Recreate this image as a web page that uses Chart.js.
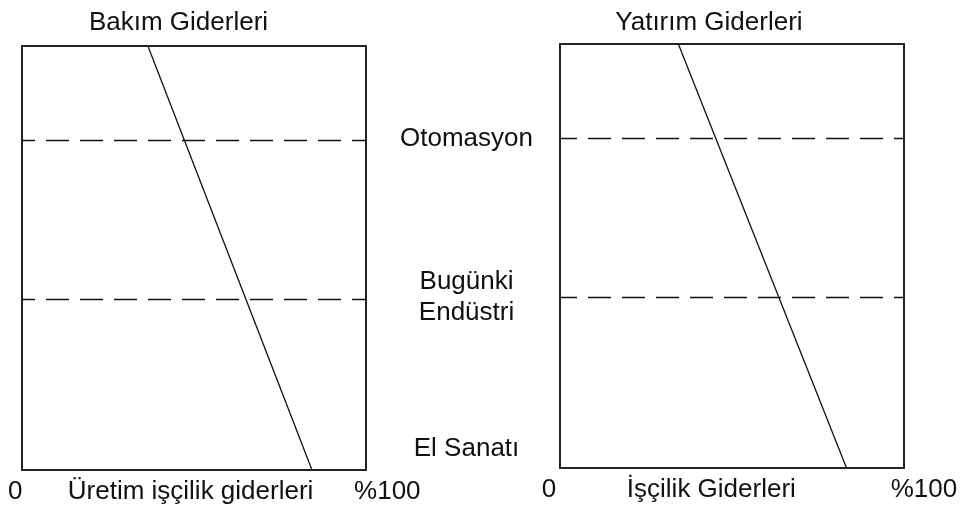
<!DOCTYPE html>
<html>
<head>
<meta charset="utf-8">
<script src="https://cdn.jsdelivr.net/npm/chart.js@4"></script>
<style>
  body { margin: 0; background: #fff; }
  .panel { position: absolute; top: 0; height: 512px; }
  #left-panel { left: 0; width: 480px; }
  #right-panel { left: 380px; width: 584px; }
</style>
</head>
<body>
<div class="panel" id="left-panel"><canvas id="chart-left"></canvas></div>
<div class="panel" id="right-panel"><canvas id="chart-right"></canvas></div>
<script>
// stage levels on the vertical scale (0 = bottom, 100 = top)
const stageLabels = ["El Sanatı", ["Bugünki", "Endüstri"], "Otomasyon"];
const stageLevels = [4.5, 40.2, 77.7];
const dashedLevels = [40.2, 77.7];

// the falling cost line in each panel
const lineY = [100, 0];
const maintenanceX = [36.6, 84.3];
const investmentX = [34.4, 83.3];

// titles and bottom labels, placed on the x scale (0..100)
const leftTitle = ["Bakım Giderleri"];
const leftTitlePos = [45.5];
const rightTitle = ["Yatırım Giderleri"];
const rightTitlePos = [43.3];
const leftXLabels = ["0", "Üretim işçilik giderleri", "%100"];
const leftXPos = [-2, 49, 106.2];
const rightXLabels = ["0", "İşçilik Giderleri", "%100"];
const rightXPos = [-3.2, 44, 105.8];

Chart.defaults.font.family = "'Liberation Sans', Arial, sans-serif";
Chart.defaults.font.size = 26;
Chart.defaults.color = "#111";

const ink = "#111";
const frame = { display: true, color: "#222", width: 2 };
const noGrid = { display: false, drawTicks: false };

const pts = (xs, ys) => xs.map((x, i) => ({ x: x, y: ys[i] }));

const setTicks = (values) => (scale) => {
  scale.ticks = values.map((v) => ({ value: v }));
};
const fixHeight = (h) => (scale) => {
  scale.height = h;
  scale.paddingLeft = 0;
  scale.paddingRight = 0;
};
const fixWidth = (w) => (scale) => {
  scale.width = w;
  scale.paddingTop = 0;
  scale.paddingBottom = 0;
};

function xAxis(position, values, labels, height, pad) {
  return {
    type: "linear",
    position: position,
    min: 0,
    max: 100,
    grid: noGrid,
    border: frame,
    ticks: {
      autoSkip: false,
      maxRotation: 0,
      padding: pad,
      callback: (v, i) => labels[i],
    },
    afterBuildTicks: setTicks(values),
    afterFit: fixHeight(height),
  };
}

function plainY(position) {
  return {
    type: "linear",
    position: position,
    min: 0,
    max: 100,
    grid: noGrid,
    border: frame,
    ticks: { display: false },
    afterFit: fixWidth(0),
  };
}

function datasets(lineX, dashOffset) {
  const sets = [
    {
      data: pts(lineX, lineY),
      borderColor: ink,
      borderWidth: 1.3,
    },
  ];
  dashedLevels.forEach((lvl) => {
    sets.push({
      data: pts([0, 100], [lvl, lvl]),
      borderColor: ink,
      borderWidth: 1.6,
      borderDash: [23, 11],
      borderDashOffset: dashOffset,
    });
  });
  return sets.map((s) => ({ ...s, showLine: true, pointRadius: 0, fill: false }));
}

const common = {
  responsive: true,
  maintainAspectRatio: false,
  animation: false,
  events: [],
  plugins: { legend: { display: false }, tooltip: { enabled: false } },
};

new Chart(document.getElementById("chart-left"), {
  type: "scatter",
  data: { datasets: datasets(maintenanceX, 10) },
  options: {
    ...common,
    layout: { padding: { left: 22, right: 114, top: 0, bottom: 0 } },
    scales: {
      x: xAxis("bottom", leftXPos, leftXLabels, 42, 6),
      xTop: xAxis("top", leftTitlePos, leftTitle, 46, 8),
      y: plainY("left"),
      yRight: plainY("right"),
    },
  },
});

new Chart(document.getElementById("chart-right"), {
  type: "scatter",
  data: { datasets: datasets(investmentX, 6) },
  options: {
    ...common,
    layout: { padding: { left: 0, right: 60, top: 0, bottom: 0 } },
    scales: {
      x: xAxis("bottom", rightXPos, rightXLabels, 44, 6),
      xTop: xAxis("top", rightTitlePos, rightTitle, 44, 6),
      y: {
        type: "linear",
        position: "left",
        min: 0,
        max: 100,
        grid: noGrid,
        border: frame,
        ticks: {
          crossAlign: "center",
          padding: 27,
          callback: (v, i) => stageLabels[i],
        },
        afterBuildTicks: setTicks(stageLevels),
        afterFit: fixWidth(180),
      },
      yRight: plainY("right"),
    },
  },
});
</script>
</body>
</html>
